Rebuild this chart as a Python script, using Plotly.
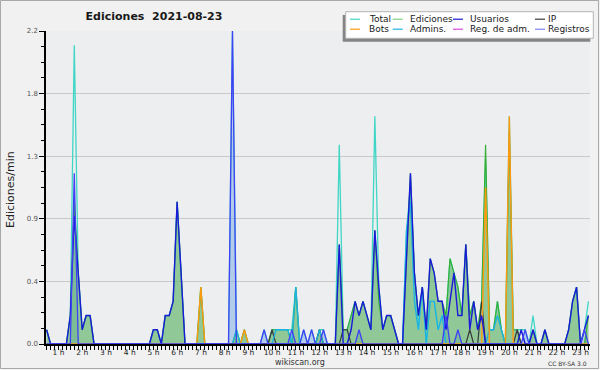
import plotly.graph_objects as go

# ---- time axis: 10-minute slots (slot k -> hour k/6), 00:50 .. 23:40
slot_index = list(range(5, 143))
x_hours = [k / 6 for k in slot_index]

hour_ticks = list(range(1, 24))
hour_labels = [f"{h} h" for h in hour_ticks]
y_tickvals = [0, 0.44, 0.88, 1.32, 1.76, 2.2]
y_ticktext = ["0.0", "0.4", "0.9", "1.3", "1.8", "2.2"]

# ---- series (edits per minute), rows = hour blocks of 10-minute slots
total = (
    [0.1]
    + [0, 0, 0, 0, 0, 0.2]
    + [2.1, 0.5, 0.1, 0.2, 0.2, 0]
    + [0, 0, 0, 0, 0, 0]
    + [0, 0, 0, 0, 0, 0]
    + [0, 0, 0.1, 0.1, 0, 0.2]
    + [0.2, 0.3, 1.0, 0.5, 0, 0]
    + [0, 0, 0.4, 0, 0, 0]
    + [0, 0, 0, 0, 2.2, 0.1]
    + [0, 0.1, 0, 0, 0, 0]
    + [0.1, 0, 0.1, 0.1, 0.1, 0.1]
    + [0.1, 0.1, 0.4, 0, 0.1, 0]
    + [0.1, 0, 0.1, 0.1, 0, 0]
    + [0, 1.4, 0.1, 0.1, 0.2, 0.3]
    + [0.2, 0.3, 0.2, 0.1, 1.6, 0.4]
    + [0.1, 0.2, 0.2, 0.1, 0, 0]
    + [0.8, 1.1, 0.5, 0.1, 0.4, 0]
    + [0.3, 0.3, 0.1, 0.2, 0.2, 0.6]
    + [0.5, 0.4, 0.2, 0.7, 0.2, 0.3]
    + [0.1, 0.3, 1.3, 0.1, 0.1, 0.3]
    + [0.1, 0, 1.6, 0.1, 0.1, 0.1]
    + [0.1, 0, 0.2, 0, 0, 0.1]
    + [0, 0, 0, 0, 0, 0.1]
    + [0.3, 0.4, 0, 0.1, 0.3]
)

ediciones = (
    [0.1]
    + [0, 0, 0, 0, 0, 0.2]
    + [1.0, 0.5, 0.1, 0.2, 0.2, 0]
    + [0, 0, 0, 0, 0, 0]
    + [0, 0, 0, 0, 0, 0]
    + [0, 0, 0.1, 0.1, 0, 0.2]
    + [0.2, 0.3, 1.0, 0.5, 0, 0]
    + [0, 0, 0.4, 0, 0, 0]
    + [0, 0, 0, 0, 0, 0.1]
    + [0, 0.1, 0, 0, 0, 0]
    + [0, 0, 0.1, 0.1, 0.1, 0.1]
    + [0.1, 0, 0.4, 0, 0, 0]
    + [0, 0, 0.1, 0, 0, 0]
    + [0, 0.7, 0.1, 0.1, 0.2, 0.3]
    + [0.2, 0.3, 0.2, 0.1, 0.8, 0.3]
    + [0.1, 0.2, 0.2, 0.1, 0, 0]
    + [0.6, 1.2, 0.5, 0.2, 0.4, 0.1]
    + [0.6, 0.5, 0.3, 0.3, 0.2, 0.6]
    + [0.5, 0.4, 0.2, 0.7, 0.2, 0.3]
    + [0.1, 0.3, 1.4, 0.1, 0.1, 0.3]
    + [0.1, 0, 1.5, 0.1, 0.1, 0]
    + [0, 0, 0.1, 0, 0, 0.1]
    + [0, 0, 0, 0, 0, 0.1]
    + [0.3, 0.4, 0, 0, 0.2]
)

usuarios = (
    [0.1]
    + [0, 0, 0, 0, 0, 0.2]
    + [0.9, 0.5, 0.1, 0.2, 0.2, 0]
    + [0, 0, 0, 0, 0, 0]
    + [0, 0, 0, 0, 0, 0]
    + [0, 0, 0.1, 0.1, 0, 0.2]
    + [0.2, 0.3, 1.0, 0.5, 0, 0]
    + [0, 0, 0, 0, 0, 0]
    + [0, 0, 0, 0, 0, 0]
    + [0, 0, 0, 0, 0, 0]
    + [0, 0, 0, 0, 0, 0]
    + [0, 0, 0, 0, 0, 0]
    + [0, 0, 0, 0, 0, 0]
    + [0, 0.7, 0, 0, 0.1, 0.3]
    + [0.2, 0.3, 0.2, 0.1, 0.8, 0.4]
    + [0.1, 0.2, 0.2, 0.1, 0, 0]
    + [0.6, 1.2, 0.5, 0.2, 0.4, 0.1]
    + [0.6, 0.5, 0.3, 0.3, 0.1, 0.3]
    + [0.5, 0.2, 0.2, 0.7, 0.1, 0.3]
    + [0.1, 0.2, 0, 0, 0, 0]
    + [0, 0, 0, 0, 0, 0.1]
    + [0, 0, 0.1, 0, 0, 0.1]
    + [0, 0, 0, 0, 0, 0.1]
    + [0.3, 0.4, 0, 0.1, 0.2]
)

ip = (
    [0]
    + [0] * 6 + [0] * 6 + [0] * 6 + [0] * 6 + [0] * 6 + [0] * 6 + [0] * 6
    + [0, 0, 0, 0, 0, 0]
    + [0, 0, 0, 0, 0, 0]
    + [0, 0, 0.1, 0, 0, 0]
    + [0, 0, 0, 0, 0, 0]
    + [0, 0, 0.1, 0, 0, 0]
    + [0, 0, 0.1, 0.1, 0, 0]
    + [0, 0, 0, 0, 0, 0]
    + [0, 0, 0, 0, 0, 0]
    + [0, 0, 0, 0, 0, 0]
    + [0, 0, 0, 0, 0, 0]
    + [0, 0, 0, 0, 0.1, 0]
    + [0, 0.3, 0, 0, 0, 0]
    + [0, 0, 0, 0, 0.1, 0]
    + [0, 0, 0, 0, 0, 0]
    + [0, 0, 0, 0, 0, 0]
    + [0, 0, 0, 0, 0]
)

bots = (
    [0]
    + [0] * 6 + [0] * 6 + [0] * 6 + [0] * 6 + [0] * 6 + [0] * 6
    + [0, 0, 0.4, 0, 0, 0]
    + [0, 0, 0, 0, 0, 0]
    + [0, 0.1, 0, 0, 0, 0]
    + [0] * 6 + [0] * 6 + [0] * 6 + [0] * 6 + [0] * 6 + [0] * 6 + [0] * 6
    + [0] * 6 + [0] * 6
    + [0, 0, 1.1, 0, 0, 0]
    + [0, 0, 1.6, 0, 0, 0]
    + [0] * 6 + [0] * 6
    + [0, 0, 0, 0, 0]
)

admins = (
    [0]
    + [0] * 6 + [0] * 6 + [0] * 6 + [0] * 6 + [0] * 6 + [0] * 6 + [0] * 6
    + [0, 0, 0, 0, 0, 0.1]
    + [0, 0, 0, 0, 0, 0]
    + [0, 0, 0, 0.1, 0.1, 0.1]
    + [0.1, 0, 0.4, 0, 0, 0]
    + [0, 0, 0.1, 0, 0, 0]
    + [0] * 6 + [0] * 6 + [0] * 6
    + [0.8, 1.0, 0.3, 0.1, 0.4, 0]
    + [0.3, 0.3, 0.1, 0.2, 0, 0]
    + [0, 0, 0, 0, 0, 0]
    + [0, 0, 0, 0.1, 0.1, 0.2]
    + [0.1, 0, 0, 0, 0, 0]
    + [0] * 6 + [0] * 6
    + [0, 0, 0, 0, 0]
)

reg_adm = [0] * 138

registros = (
    [0]
    + [0, 0, 0, 0, 0, 0]
    + [1.2, 0, 0, 0, 0, 0]
    + [0] * 6 + [0] * 6 + [0] * 6 + [0] * 6 + [0] * 6
    + [0, 0, 0, 0, 2.2, 0]
    + [0, 0, 0, 0, 0, 0]
    + [0.1, 0, 0, 0, 0, 0]
    + [0, 0.1, 0, 0, 0.1, 0]
    + [0.1, 0, 0, 0.1, 0, 0]
    + [0, 0, 0, 0, 0, 0]
    + [0.1, 0, 0, 0, 0, 0]
    + [0, 0, 0, 0, 0, 0]
    + [0, 0, 0, 0, 0, 0]
    + [0, 0, 0, 0, 0.2, 0]
    + [0, 0.1, 0, 0, 0, 0]
    + [0, 0, 0, 0, 0, 0]
    + [0, 0, 0, 0, 0, 0]
    + [0.1, 0, 0, 0, 0, 0]
    + [0, 0, 0, 0, 0, 0]
    + [0, 0, 0, 0.1, 0]
)

legend_names = ["Total", "Ediciones", "Usuarios", "IP",
                "Bots", "Admins.", "Reg. de adm.", "Registros"]

# ---- colours
C_TOTAL = "#3fd6c6"
C_EDIC = "#34b034"
C_USU = "#1a1ad8"
C_IP = "#3a3a3a"
C_BOTS = "#ff9a10"
C_ADM = "#1cb2e2"
C_REGADM = "#d448e0"
C_REG = "#4040f6"
legend_colors = [C_TOTAL, "#80d080", C_USU, C_IP, C_BOTS, C_ADM, C_REGADM, "#8080f0"]

FONT = "DejaVu Sans"
W, H = 600, 370
L, R, T, B = 46, 10, 31, 26
PW, PH = W - L - R, H - T - B


def pxx(px):
    return (px - L) / PW


def pxy(py):
    return (H - B - py) / PH


fig = go.Figure()

# filled areas
fig.add_trace(go.Scatter(x=x_hours, y=registros, mode="lines", line=dict(width=0),
                         fill="tozeroy", fillcolor="rgba(120,170,225,0.5)",
                         showlegend=False, hoverinfo="skip"))
fig.add_trace(go.Scatter(x=x_hours, y=ediciones, mode="lines", line=dict(width=0),
                         fill="tozeroy", fillcolor="rgba(100,182,110,0.68)",
                         showlegend=False, hoverinfo="skip"))

# lines
for name, ys, col, w in [
    ("Reg. de adm.", reg_adm, C_REGADM, 1.2),
    ("Total", total, C_TOTAL, 1.3),
    ("Ediciones", ediciones, C_EDIC, 1.2),
    ("IP", ip, C_IP, 1.2),
    ("Admins.", admins, C_ADM, 1.3),
    ("Bots", bots, C_BOTS, 1.4),
    ("Usuarios", usuarios, C_USU, 1.4),
    ("Registros", registros, C_REG, 1.3),
]:
    fig.add_trace(go.Scatter(x=x_hours, y=ys, mode="lines", name=name,
                             line=dict(color=col, width=w), showlegend=False))

shapes = []
# outer frame
shapes.append(dict(type="rect", xref="paper", yref="paper",
                   x0=pxx(0.5), x1=pxx(598.5), y0=pxy(0.5), y1=pxy(368.5),
                   line=dict(color="#a8a8a8", width=1), layer="below"))
# legend shadow + box
shapes.append(dict(type="rect", xref="paper", yref="paper",
                   x0=pxx(342.7), x1=pxx(590.3), y0=pxy(15), y1=pxy(41.7),
                   line=dict(width=0), fillcolor="#858585"))
shapes.append(dict(type="rect", xref="paper", yref="paper",
                   x0=pxx(345.7), x1=pxx(593.3), y0=pxy(11.7), y1=pxy(38.3),
                   line=dict(color="#b4b4b4", width=1), fillcolor="#ffffff"))

annotations = []
col_sym = [350, 392.7, 453, 535]
col_txt = [366.5, 408.3, 468.3, 545.5]
row_y = [19.2, 29.2]
for i, (nm, col) in enumerate(zip(legend_names, legend_colors)):
    r, c = divmod(i, 4)
    shapes.append(dict(type="line", xref="paper", yref="paper",
                       x0=pxx(col_sym[c]), x1=pxx(col_sym[c] + 10),
                       y0=pxy(row_y[r]), y1=pxy(row_y[r]),
                       line=dict(color=col, width=1.2)))
    annotations.append(dict(xref="paper", yref="paper", x=pxx(col_txt[c]), y=pxy(row_y[r]),
                            text=nm, showarrow=False, xanchor="left", yanchor="middle",
                            font=dict(family=FONT, size=9, color="#1a1a1a")))

annotations.append(dict(xref="paper", yref="paper", x=pxx(10), y=pxy(190),
                        text="Ediciones/min", textangle=-90, showarrow=False,
                        xanchor="center", yanchor="middle",
                        font=dict(family=FONT, size=11, color="#222")))
annotations.append(dict(xref="paper", yref="paper", x=pxx(300), y=pxy(362),
                        text="wikiscan.org", showarrow=False,
                        xanchor="center", yanchor="middle",
                        font=dict(family=FONT, size=8, color="#333")))
annotations.append(dict(xref="paper", yref="paper", x=pxx(589), y=pxy(363),
                        text="CC BY-SA 3.0", showarrow=False,
                        xanchor="right", yanchor="middle",
                        font=dict(family=FONT, size=6, color="#333")))

fig.update_layout(
    width=W, height=H,
    margin=dict(l=L, r=R, t=T, b=B, pad=0),
    paper_bgcolor="#f1f1f1", plot_bgcolor="#edeef0",
    title=dict(text="Ediciones\u00a0\u00a02021-08-23", x=pxx(154), xref="paper",
               xanchor="center", y=1 - 16.5 / H, yanchor="middle",
               font=dict(family=FONT, size=11, color="#1a1a1a", weight="bold")),
    showlegend=False,
    shapes=shapes, annotations=annotations,
    xaxis=dict(range=[4.85 / 6, 142.4 / 6], tickvals=hour_ticks, ticktext=hour_labels,
               ticks="outside", ticklen=4, tickcolor="#000", tickwidth=1,
               showline=True, linecolor="#000", linewidth=1.5,
               showgrid=False, zeroline=False,
               tickfont=dict(family=FONT, size=7.5, color="#222"),
               ticklabelshift=8, ticklabelstandoff=-4,
               minor=dict(dtick=1 / 6, tick0=0, ticks="outside", ticklen=4,
                          tickcolor="#000", tickwidth=1, showgrid=False)),
    yaxis=dict(range=[0, 2.2], tickvals=y_tickvals, ticktext=y_ticktext,
               ticks="outside", ticklen=5, tickcolor="#000", tickwidth=1,
               showline=True, linecolor="#000", linewidth=1.5,
               showgrid=True, gridcolor="#c9c9c9", gridwidth=1, zeroline=False,
               tickfont=dict(family=FONT, size=7, color="#555"),
               minor=dict(dtick=0.11, tick0=0, ticks="outside", ticklen=3,
                          tickcolor="#000", tickwidth=1, showgrid=False)),
)

fig.write_html("out.html", config={"displayModeBar": False})

# remove the browser's default page margin so the figure sits at (0, 0)
with open("out.html", "r", encoding="utf-8") as fh:
    page = fh.read()
page = page.replace("<head>", "<head><style>html,body{margin:0;padding:0;overflow:hidden;}</style>", 1)
with open("out.html", "w", encoding="utf-8") as fh:
    fh.write(page)
